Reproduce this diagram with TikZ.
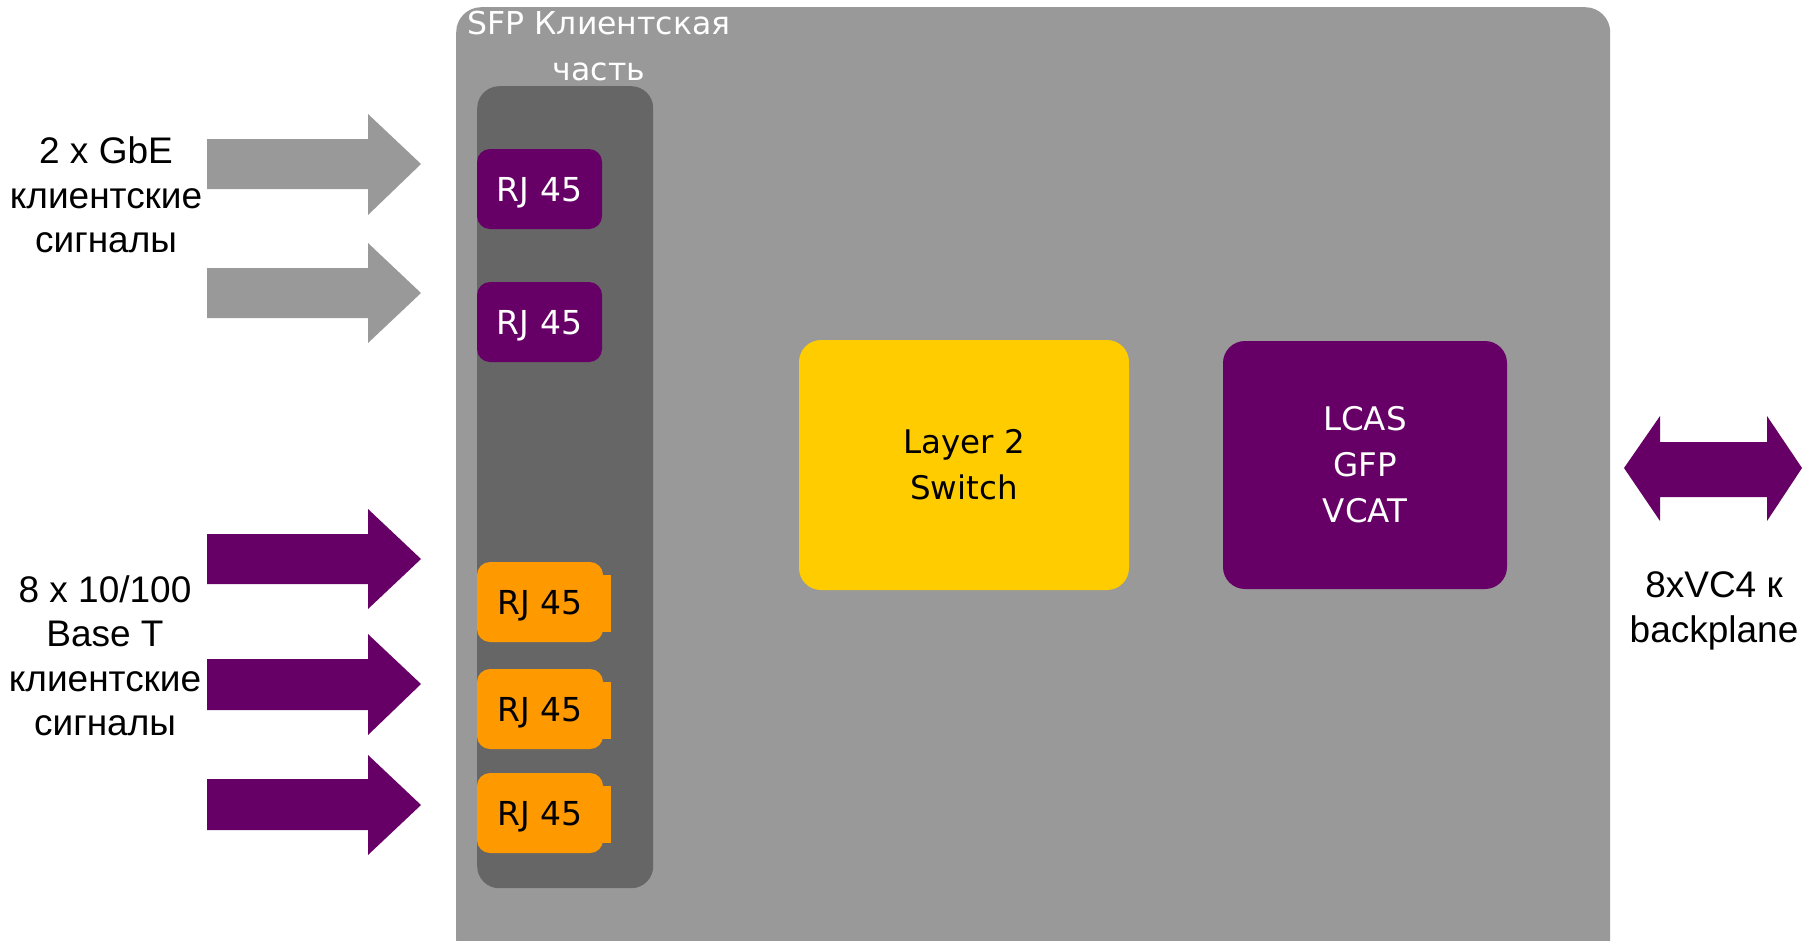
\documentclass[tikz,border=0pt]{standalone}
\usepackage{fontspec}
\setmainfont{DejaVu Sans}
\newfontfamily\labelfont{Liberation Sans}
\definecolor{cardgray}{HTML}{999999}
\definecolor{panelgray}{HTML}{666666}
\definecolor{plum}{HTML}{660066}
\definecolor{amber}{HTML}{FF9900}
\definecolor{gold}{HTML}{FFCC00}
\tikzset{
  card/.style={fill=cardgray, rounded corners=25pt, anchor=north west, inner sep=0pt},
  panel/.style={fill=panelgray, rounded corners=22pt, anchor=north west, inner sep=0pt},
  rjbase/.style={rounded corners=13pt, minimum height=80pt, inner sep=0pt, text height=24pt, text depth=0pt, font=\fontsize{33}{40}\selectfont},
  rjpurple/.style={rjbase, fill=plum, text=white, minimum width=125pt},
  rjorange/.style={rjbase, fill=amber, text=black, minimum width=126pt},
  notch/.style={fill=amber},
  bigblock/.style={rounded corners=22pt, inner sep=0pt, align=center, font=\fontsize{32.5}{46}\selectfont},
  sidelabel/.style={align=center, font=\labelfont\fontsize{37}{44.5}\selectfont, text=black, inner sep=0pt},
  grayarrow/.style={fill=cardgray},
  plumarrow/.style={fill=plum},
}
\begin{document}
\begin{tikzpicture}[x=1pt,y=-1pt]
\useasboundingbox (0,0) rectangle (1814,940);
\fill[white] (0,0) rectangle (1814,940);

% main card and panel
\node[card, minimum width=1154pt, minimum height=958pt] (card) at (456,7) {};
\node[panel, minimum width=176pt, minimum height=802pt] (panel) at (477,86) {};
\node[align=center, text=white, inner sep=0pt, font=\fontsize{31.5}{46}\selectfont] (sfp) at (599,46) {SFP Клиентская\\часть};

% RJ45 purple
\node[rjpurple] (rj1) at (539.5,189) {RJ 45};
\node[rjpurple] (rj2) at (539.5,322) {RJ 45};

% RJ45 orange with notch
\fill[notch] (596,575) rectangle (611,632);
\node[rjorange] (rj3) at (540,602) {RJ 45};
\fill[notch] (596,682) rectangle (611,739);
\node[rjorange] (rj4) at (540,709) {RJ 45};
\fill[notch] (596,786) rectangle (611,843);
\node[rjorange] (rj5) at (540,813) {RJ 45};

% main blocks
\node[bigblock, fill=gold, text=black, minimum width=330pt, minimum height=250pt] (switch) at (964,465) {Layer 2\\Switch};
\node[bigblock, fill=plum, text=white, minimum width=284pt, minimum height=248pt] (lcas) at (1365,465) {LCAS\\GFP\\VCAT};

% input arrows
\fill[grayarrow] (207,139) -- (368,139) -- (368,114) -- (421,164) -- (368,215) -- (368,189) -- (207,189) -- cycle;
\fill[grayarrow] (207,268) -- (368,268) -- (368,243) -- (421,293) -- (368,343) -- (368,318) -- (207,318) -- cycle;
\fill[plumarrow] (207,534) -- (368,534) -- (368,509) -- (421,559) -- (368,609) -- (368,584) -- (207,584) -- cycle;
\fill[plumarrow] (207,659) -- (368,659) -- (368,634) -- (421,684) -- (368,735) -- (368,710) -- (207,710) -- cycle;
\fill[plumarrow] (207,779) -- (368,779) -- (368,755) -- (421,805) -- (368,855) -- (368,830) -- (207,830) -- cycle;

% backplane double arrow
\fill[plumarrow] (1624,468) -- (1660,416) -- (1660,442) -- (1767,442) -- (1767,416) -- (1802,468) -- (1767,521) -- (1767,497) -- (1660,497) -- (1660,521) -- cycle;

% side labels
\node[sidelabel] (gbe) at (106,195) {2 x GbE\\клиентские\\сигналы};
\node[sidelabel] (fe) at (105,656) {8 x 10/100\\Base T\\клиентские\\сигналы};
\node[sidelabel] (vc4) at (1714,611) {8xVC4 к\\backplane};
\end{tikzpicture}
\end{document}
